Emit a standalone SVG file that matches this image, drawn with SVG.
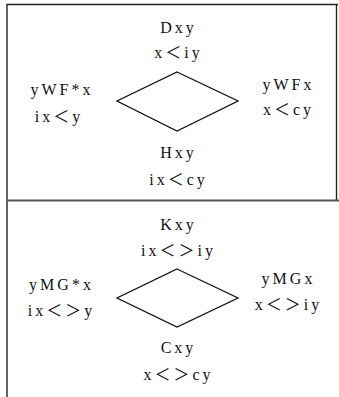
<svg xmlns="http://www.w3.org/2000/svg" width="339" height="397" viewBox="0 0 339 397">
  <style>
    .lbl { font-family: "Liberation Serif", "Noto Sans CJK JP", serif; font-size: 16px; fill: #111; text-anchor: middle; letter-spacing: 3px; }
    .frame { fill: none; stroke: #222; stroke-width: 1.4; }
    .divider { fill: none; stroke: #555; stroke-width: 2; }
    .rhomb { fill: #fff; stroke: #111; stroke-width: 1.3; stroke-linejoin: miter; }
  </style>
  <rect width="339" height="397" fill="#fff"/>

  <!-- table frame -->
  <g id="frame">
    <path class="frame" d="M7,397 V4.5 H338 M336.5,4.5 V200"/>
    <path class="divider" d="M7,200.5 H339"/>
  </g>

  <!-- upper square of opposition -->
  <g id="upper">
    <polygon class="rhomb" points="177,72 238,101 177,131 117,101"/>
    <g id="D"><text class="lbl" x="178.5" y="33">Dxy</text><text class="lbl" x="178.5" y="58">x＜iy</text></g>
    <g id="WFstar"><text class="lbl" x="62" y="95">yWF*x</text><text class="lbl" x="59" y="122">ix＜y</text></g>
    <g id="WF"><text class="lbl" x="288.5" y="90">yWFx</text><text class="lbl" x="288.5" y="115">x＜cy</text></g>
    <g id="H"><text class="lbl" x="178.5" y="158">Hxy</text><text class="lbl" x="178.5" y="185">ix＜cy</text></g>
  </g>

  <!-- lower square of opposition -->
  <g id="lower">
    <polygon class="rhomb" points="177,269 238,298 177,327 117,298"/>
    <g id="K"><text class="lbl" x="178.5" y="230">Kxy</text><text class="lbl" x="178.5" y="256">ix＜＞iy</text></g>
    <g id="MGstar"><text class="lbl" x="61.5" y="290">yMG*x</text><text class="lbl" x="61.5" y="316">ix＜＞y</text></g>
    <g id="MG"><text class="lbl" x="288.5" y="284">yMGx</text><text class="lbl" x="288.5" y="310">x＜＞iy</text></g>
    <g id="C"><text class="lbl" x="178.5" y="353">Cxy</text><text class="lbl" x="178.5" y="380">x＜＞cy</text></g>
  </g>
</svg>
